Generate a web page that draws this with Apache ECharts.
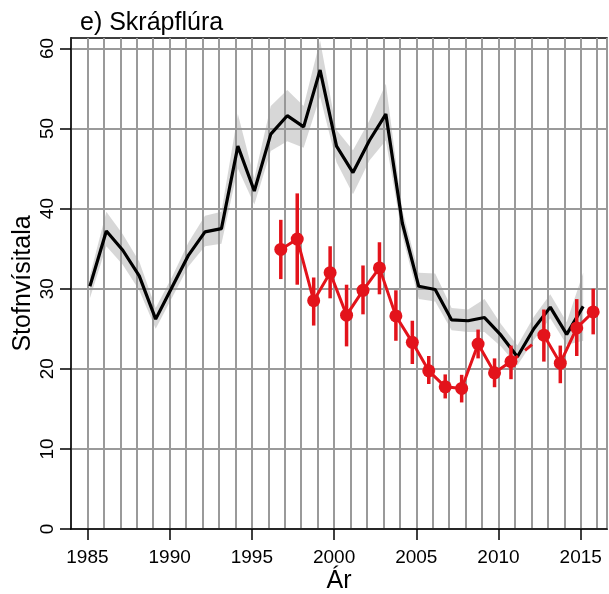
<!DOCTYPE html>
<html>
<head>
<meta charset="utf-8">
<script src="https://cdn.jsdelivr.net/npm/echarts@6/dist/echarts.min.js"></script>
<style>
  html, body { margin: 0; padding: 0; background: #fff; }
  #chart { width: 609px; height: 594px; }
</style>
</head>
<body>
<div id="chart"></div>
<script>
// stofnvísitala, vorrall (svart, með óvissubili) og haustrall (rautt)
const springYears = [1985, 1986, 1987, 1988, 1989, 1990, 1991, 1992, 1993, 1994, 1995, 1996, 1997, 1998, 1999, 2000,
  2001, 2002, 2003, 2004, 2005, 2006, 2007, 2008, 2009, 2010, 2011, 2012, 2013, 2014, 2015];
const springIndex = [30.3, 37.2, 34.8, 31.6, 26.2, 30.2, 34.2, 37.1, 37.5, 47.8, 42.2, 49.3, 51.6, 50.2, 57.3, 47.8,
  44.5, 48.5, 51.8, 38.2, 30.3, 29.9, 26.1, 26.0, 26.4, 24.2, 21.5, 25.0, 27.7, 24.3, 27.8];
const springLow = [28.8, 35.3, 33.0, 29.8, 25.0, 28.9, 32.8, 35.3, 35.6, 45.0, 40.5, 47.2, 48.4, 47.6, 54.0, 45.8,
  41.8, 46.0, 48.5, 36.6, 28.7, 28.4, 24.8, 24.6, 24.6, 22.8, 20.4, 23.6, 26.3, 23.0, 23.5];
const springHigh = [31.6, 39.6, 36.8, 33.4, 27.6, 31.5, 35.8, 39.1, 39.6, 51.8, 43.8, 52.8, 54.8, 52.8, 61.0, 49.8,
  47.3, 51.0, 55.6, 39.8, 32.0, 31.9, 27.6, 27.4, 28.7, 25.6, 22.9, 26.5, 29.3, 25.8, 32.0];

const autumnYears = [1997, 1998, 1999, 2000, 2001, 2002, 2003, 2004, 2005, 2006, 2007, 2008, 2009, 2010, 2011, 2012,
  2013, 2014, 2015, 2016];
const autumnIndex = [34.9, 36.2, 28.5, 32.0, 26.7, 29.8, 32.6, 26.6, 23.3, 19.75, 17.75, 17.55, 23.1, 19.5, 20.9, null,
  24.2, 20.7, 25.1, 27.1];
const autumnLow = [31.2, 30.5, 25.4, 28.8, 22.8, 26.8, 29.3, 23.5, 20.6, 18.1, 16.3, 15.8, 21.3, 17.7, 18.7, null,
  20.9, 18.2, 21.6, 24.3];
const autumnHigh = [38.6, 41.9, 31.4, 35.3, 30.5, 32.9, 35.8, 29.8, 26.0, 21.6, 19.3, 19.25, 24.9, 21.3, 22.9, null,
  27.4, 22.9, 28.7, 30.0];

const xTickLabels = [1985, 1990, 1995, 2000, 2005, 2010, 2015];
const yTickLabels = [0, 10, 20, 30, 40, 50, 60];

// rallið er ekki á áramótum: vorrall örlítið eftir, haustrall á undan
const springShift = 0.15;
const autumnShift = -0.24;

const RED = '#e3131b';
const FONT = 'Liberation Sans, Arial, Helvetica, sans-serif';
const X_MIN = 1984;
const X_MAX = 2016.6;

const sx = y => y + springShift;
const ax = y => y + autumnShift;

const springLine = springYears.map((y, i) => [sx(y), springIndex[i]]);
const autumnLine = autumnYears.map((y, i) => [ax(y), autumnIndex[i]]);
const autumnBars = autumnYears
  .map((y, i) => [ax(y), autumnLow[i], autumnHigh[i]])
  .filter(d => d[1] != null);
// brotin lína yfir árið sem vantar
const gapIdx = autumnIndex.indexOf(null);
const autumnGap = [
  [ax(autumnYears[gapIdx - 1]), autumnIndex[gapIdx - 1]],
  [ax(autumnYears[gapIdx + 1]), autumnIndex[gapIdx + 1]]
];

const myChart = echarts.init(document.getElementById('chart'));

const axisText = { fontSize: 19, color: '#000', fontFamily: FONT };
const nameText = { fontSize: 25, color: '#000', fontFamily: FONT };
const gridLine = { show: true, lineStyle: { color: '#9a9a9a', width: 2 } };

const option = {
  animation: false,
  backgroundColor: '#fff',
  textStyle: { fontFamily: FONT },
  title: {
    text: 'e) Skrápflúra',
    left: 75,
    top: 6,
    textStyle: { fontFamily: FONT, fontSize: 25, fontWeight: 'normal', color: '#000' }
  },
  grid: {
    left: 71,
    right: 2,
    top: 38,
    bottom: 65,
    outerBoundsMode: 'none',
    containLabel: false,
    show: true,
    borderColor: '#000',
    borderWidth: 1.5,
    backgroundColor: 'transparent'
  },
  xAxis: [
    {
      // ás með merkingum á 5 ára fresti
      type: 'value',
      min: X_MIN,
      max: X_MAX,
      name: 'Ár',
      nameLocation: 'middle',
      nameGap: 40,
      nameMoveOverlap: false,
      nameTextStyle: nameText,
      axisLine: { show: true, onZero: false, lineStyle: { color: '#000', width: 1.5 } },
      axisTick: {
        show: true,
        length: 11,
        customValues: xTickLabels,
        lineStyle: { color: '#000', width: 1.5 }
      },
      axisLabel: {
        customValues: xTickLabels,
        formatter: v => String(v),
        margin: 19,
        ...axisText
      },
      splitLine: { show: false }
    },
    {
      // hnitanet fyrir hvert ár
      type: 'value',
      min: X_MIN,
      max: X_MAX,
      interval: 1,
      position: 'bottom',
      axisLine: { show: false },
      axisTick: { show: false },
      axisLabel: { show: false },
      splitLine: gridLine
    }
  ],
  yAxis: {
    type: 'value',
    min: 0,
    max: 61.3,
    interval: 10,
    name: 'Stofnvísitala',
    nameLocation: 'middle',
    nameGap: 35,
    nameMoveOverlap: false,
    nameTextStyle: nameText,
    axisLine: { show: true, lineStyle: { color: '#000', width: 1.5 } },
    axisTick: {
      show: true,
      length: 11,
      customValues: yTickLabels,
      lineStyle: { color: '#000', width: 1.5 }
    },
    axisLabel: {
      customValues: yTickLabels,
      rotate: 90,
      margin: 14,
      ...axisText
    },
    splitLine: gridLine
  },
  series: [
    {
      name: 'óvissubil',
      type: 'custom',
      data: [0],
      silent: true,
      renderItem: (params, api) => {
        const upper = springYears.map((y, i) => api.coord([sx(y), springHigh[i]]));
        const lower = springYears.map((y, i) => api.coord([sx(y), springLow[i]])).reverse();
        return {
          type: 'polygon',
          shape: { points: upper.concat(lower) },
          style: { fill: 'rgba(150,150,150,0.38)', stroke: null }
        };
      },
      z: 2
    },
    {
      name: 'vorrall',
      type: 'line',
      data: springLine,
      symbol: 'none',
      lineStyle: { color: '#000', width: 3.2 },
      z: 3
    },
    {
      name: 'villa',
      type: 'custom',
      data: autumnBars,
      renderItem: (params, api) => {
        const lo = api.coord([api.value(0), api.value(1)]);
        const hi = api.coord([api.value(0), api.value(2)]);
        return {
          type: 'line',
          shape: { x1: lo[0], y1: lo[1], x2: hi[0], y2: hi[1] },
          style: { stroke: RED, lineWidth: 3.5 }
        };
      },
      z: 4
    },
    {
      name: 'bil',
      type: 'line',
      data: autumnGap,
      symbol: 'none',
      lineStyle: { color: RED, width: 3, type: [9, 9] },
      z: 4
    },
    {
      name: 'haustrall',
      type: 'line',
      data: autumnLine,
      connectNulls: false,
      symbol: 'circle',
      symbolSize: 13,
      itemStyle: { color: RED },
      lineStyle: { color: RED, width: 3 },
      z: 5
    }
  ]
};

myChart.setOption(option);
</script>
</body>
</html>
